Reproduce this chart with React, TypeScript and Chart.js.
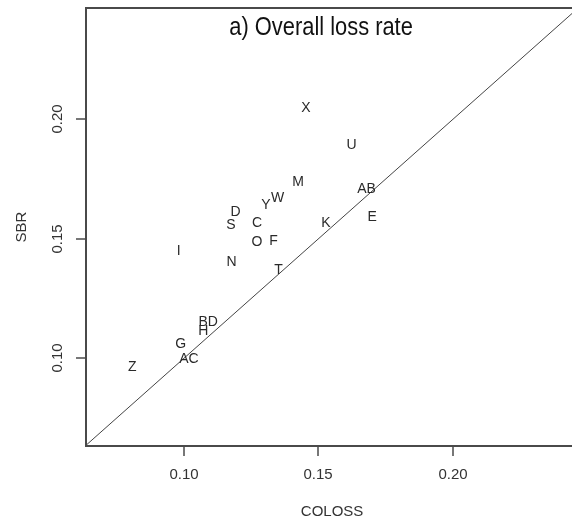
import React, { useEffect, useRef } from "react";
import { Chart, registerables } from "chart.js";

Chart.register(...registerables);

const labels = ["X", "U", "M", "AB", "W", "Y", "D", "S", "C", "E", "K", "O", "F", "I", "N", "T", "BD", "H", "G", "AC", "Z"];
const colossValues = [0.1454, 0.1623, 0.1425, 0.1679, 0.1348, 0.1305, 0.1192, 0.1175, 0.1272, 0.17, 0.1528, 0.1272, 0.1333, 0.0981, 0.1177, 0.1352, 0.109, 0.1072, 0.0988, 0.1019, 0.0808];
const sbrValues = [0.2049, 0.189, 0.1736, 0.1708, 0.1669, 0.1641, 0.1611, 0.1559, 0.1567, 0.1592, 0.1567, 0.1487, 0.149, 0.1449, 0.1404, 0.1367, 0.1153, 0.1115, 0.1059, 0.0997, 0.0965];
const tickValues = [0.1, 0.15, 0.2];
const tickLabels = ["0.10", "0.15", "0.20"];
const xRange = [0.0636, 0.2443];
const yRange = [0.0633, 0.2466];
const diagonal = [0.0633, 0.2466];
const titleText = "a) Overall loss rate";
const titlePos = [0.151, 0.2382];
const xTitle = "COLOSS";
const yTitle = "SBR";

const SANS = '"Liberation Sans", Arial, sans-serif';

const decorPlugin = {
  id: "decor",
  afterDatasetsDraw(chart: any) {
    const { ctx, chartArea, scales } = chart;
    const xs = scales.x;
    const ys = scales.y;
    ctx.save();
    // text labels
    const meta = chart.getDatasetMeta(0);
    ctx.fillStyle = "#2a2a2a";
    ctx.font = `14px ${SANS}`;
    ctx.textAlign = "center";
    ctx.textBaseline = "middle";
    meta.data.forEach((el: any, i: number) => {
      ctx.fillText(labels[i], el.x, el.y);
    });
    // title (condensed horizontally, like a narrow face)
    ctx.fillStyle = "#111";
    ctx.font = `25px ${SANS}`;
    ctx.save();
    ctx.translate(xs.getPixelForValue(titlePos[0]), ys.getPixelForValue(titlePos[1]));
    ctx.scale(0.875, 1);
    ctx.fillText(titleText, 0, 0);
    ctx.restore();
    // box
    ctx.strokeStyle = "#4a4a4a";
    ctx.lineWidth = 2;
    ctx.strokeRect(chartArea.left, chartArea.top, chartArea.right - chartArea.left + 10, chartArea.bottom - chartArea.top);
    // ticks
    ctx.lineWidth = 1.5;
    ctx.fillStyle = "#333";
    ctx.font = `15px ${SANS}`;
    tickValues.forEach((v, i) => {
      const px = Math.round(xs.getPixelForValue(v));
      ctx.beginPath();
      ctx.moveTo(px, chartArea.bottom);
      ctx.lineTo(px, chartArea.bottom + 10);
      ctx.stroke();
      ctx.textAlign = "center";
      ctx.textBaseline = "middle";
      ctx.fillText(tickLabels[i], px, chartArea.bottom + 29);
      const py = Math.round(ys.getPixelForValue(v));
      ctx.beginPath();
      ctx.moveTo(chartArea.left, py);
      ctx.lineTo(chartArea.left - 10, py);
      ctx.stroke();
      ctx.save();
      ctx.translate(chartArea.left - 28, py);
      ctx.rotate(-Math.PI / 2);
      ctx.fillText(tickLabels[i], 0, 0);
      ctx.restore();
    });
    // axis titles
    ctx.fillText(xTitle, (chartArea.left + xs.getPixelForValue(yRange[1])) / 2, chartArea.bottom + 66);
    ctx.save();
    ctx.translate(22, (chartArea.top + chartArea.bottom) / 2);
    ctx.rotate(-Math.PI / 2);
    ctx.fillText(yTitle, 0, 0);
    ctx.restore();
    ctx.restore();
  },
};

export default function App() {
  const ref = useRef<HTMLCanvasElement | null>(null);
  useEffect(() => {
    document.body.style.margin = "0";
    const canvas = ref.current;
    if (!canvas) return;
    const chart = new Chart(canvas, {
      type: "scatter",
      data: {
        datasets: [
          {
            data: colossValues.map((x, i) => ({ x, y: sbrValues[i] })),
            pointRadius: 0,
            pointHoverRadius: 0,
          },
          {
            type: "line",
            data: diagonal.map((v) => ({ x: v, y: v })),
            borderColor: "#444",
            borderWidth: 1,
            pointRadius: 0,
            fill: false,
          } as any,
        ],
      },
      options: {
        animation: false,
        responsive: false,
        events: [],
        layout: { padding: { top: 8, right: 0, left: 0, bottom: 0 } },
        plugins: { legend: { display: false }, tooltip: { enabled: false }, title: { display: false } },
        scales: {
          x: {
            type: "linear",
            min: xRange[0],
            max: xRange[1],
            ticks: { display: false },
            grid: { display: false },
            border: { display: false },
            afterFit: (s: any) => {
              s.height = 76;
            },
          },
          y: {
            type: "linear",
            min: yRange[0],
            max: yRange[1],
            ticks: { display: false },
            grid: { display: false },
            border: { display: false },
            afterFit: (s: any) => {
              s.width = 86;
            },
          },
        },
      },
      plugins: [decorPlugin],
    });
    return () => chart.destroy();
  }, []);
  return (
    <div style={{ width: 572, height: 522, background: "#fff" }}>
      <canvas ref={ref} width={572} height={522} style={{ display: "block" }} />
    </div>
  );
}
